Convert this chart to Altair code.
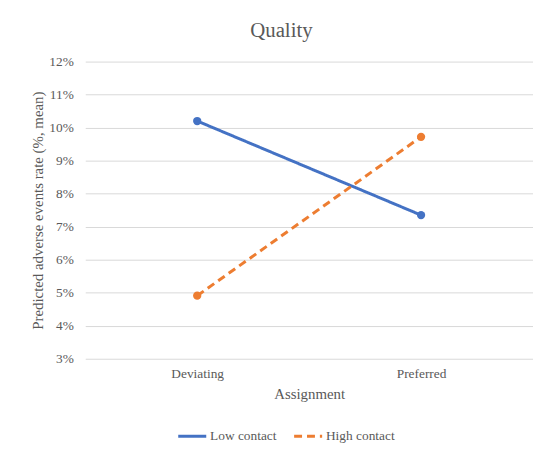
import altair as alt
import pandas as pd

assignments = ["Deviating", "Preferred"]
low_contact = [0.1020, 0.0735]
high_contact = [0.0491, 0.0972]
series_names = ["Low contact", "High contact"]

rows = []
for name, vals in zip(series_names, [low_contact, high_contact]):
    for a, v in zip(assignments, vals):
        rows.append({"Assignment": a, "Series": name, "Rate": v})
df = pd.DataFrame(rows)

FONT = "Liberation Serif"
GREY = "#595959"

color = alt.Color(
    "Series:N",
    scale=alt.Scale(domain=series_names, range=["#4472C4", "#ED7D31"]),
    legend=alt.Legend(
        title=None, orient="none", direction="horizontal",
        legendX=92, legendY=362, symbolType="stroke", symbolSize=800,
        symbolStrokeWidth=3, labelFont=FONT, labelFontSize=13.5,
        labelColor=GREY, labelOffset=2, columnPadding=10,
    ),
)
dash = alt.StrokeDash(
    "Series:N",
    scale=alt.Scale(domain=series_names, range=[[1, 0], [8, 5]]),
    legend=None,
)

x = alt.X("Assignment:N", sort=assignments, scale=alt.Scale(paddingInner=0, paddingOuter=0),
          axis=alt.Axis(title="Assignment", labelAngle=0, domain=False, ticks=False,
                        labelPadding=8, titlePadding=7))
y = alt.Y("Rate:Q", scale=alt.Scale(domain=[0.03, 0.12], nice=False),
          axis=alt.Axis(title="Predicted adverse events rate (%, mean)", format=".0%",
                        values=[0.03, 0.04, 0.05, 0.06, 0.07, 0.08, 0.09, 0.10, 0.11, 0.12],
                        domain=False, ticks=False, labelPadding=12, titlePadding=3,
                        grid=True))

base = alt.Chart(df)
lines = base.mark_line(strokeWidth=3).encode(x=x, y=y, color=color, strokeDash=dash)
points = base.mark_point(filled=True, size=70, opacity=1).encode(
    x=x, y=y,
    color=alt.Color("Series:N", scale=alt.Scale(domain=series_names, range=["#4472C4", "#ED7D31"]), legend=None))

chart = alt.layer(lines, points).properties(
    width=452, height=300,
    title=alt.Title("Quality", font=FONT, fontSize=21, fontWeight="normal", color=GREY,
                    offset=14, dx=-28),
    autosize=alt.AutoSizeParams(type="none"),
    padding={"left": 78, "top": 52, "right": 0, "bottom": 88},
).configure_axis(
    labelFont=FONT, titleFont=FONT, labelFontSize=13.5, titleFontSize=15,
    labelColor=GREY, titleColor=GREY, titleFontWeight="normal",
    gridColor="#d9d9d9", gridWidth=1,
).configure_view(stroke=None)

chart.save("out.html", embed_options={"renderer": "svg", "actions": False})
